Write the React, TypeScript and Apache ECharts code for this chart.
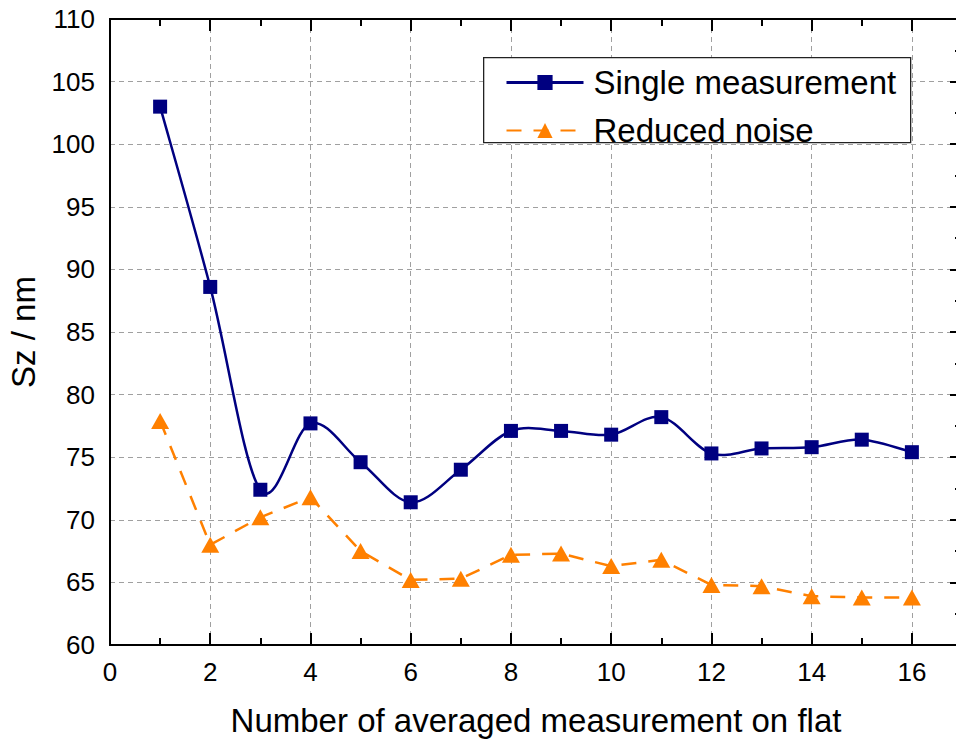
import React, { useEffect, useRef } from "react";
import * as echarts from "echarts";

// Number of averaged measurements on the flat
const averagedCounts = [1, 2, 3, 4, 5, 6, 7, 8, 9, 10, 11, 12, 13, 14, 15, 16];
// Sz in nm, single measurement
const singleMeasurement = [103.0, 88.6, 72.4, 77.7, 74.6, 71.4, 74.0, 77.1, 77.1, 76.8, 78.2, 75.3, 75.7, 75.8, 76.4, 75.4];
// Sz in nm, after noise reduction
const reducedNoise = [77.9, 68.0, 70.2, 71.8, 67.5, 65.2, 65.3, 67.2, 67.3, 66.3, 66.8, 64.8, 64.7, 63.9, 63.8, 63.8];

const seriesNames = ["Single measurement", "Reduced noise"];
const xAxisTitle = "Number of averaged measurement on flat";
const yAxisTitle = "Sz / nm";

const X_MIN = 0;
const X_MAX = 17;
const Y_MIN = 60;
const Y_MAX = 110;

const FONT = 'Arial, "Liberation Sans", Helvetica, sans-serif';
const NAVY = "#000080";
const ORANGE = "#FF8000";

const PLOT = { left: 110, top: 19, width: 852, height: 626 };

const pairs = (ys: number[]) => averagedCounts.map((x, i) => [x, ys[i]]);

// Spline segment (Catmull-Rom as cubic Bezier) from point i to point i+1
function splineSegment(params: any, api: any) {
  const i = params.dataIndex;
  const n = averagedCounts.length;
  if (i >= n - 1) return null;
  const at = (k: number) => {
    const j = Math.max(0, Math.min(n - 1, k));
    return api.coord([averagedCounts[j], singleMeasurement[j]]);
  };
  const p0 = at(i - 1);
  const p1 = at(i);
  const p2 = at(i + 1);
  const p3 = at(i + 2);
  return {
    type: "bezierCurve",
    shape: {
      x1: p1[0],
      y1: p1[1],
      cpx1: p1[0] + (p2[0] - p0[0]) / 6,
      cpy1: p1[1] + (p2[1] - p0[1]) / 6,
      cpx2: p2[0] - (p3[0] - p1[0]) / 6,
      cpy2: p2[1] - (p3[1] - p1[1]) / 6,
      x2: p2[0],
      y2: p2[1],
    },
    style: { stroke: NAVY, lineWidth: 2.5, fill: "none" },
  };
}

// Tick-only axes: each one sits on the opposite edge of the frame so that
// its (outward) ticks point into the plot area.
function tickAxes(gridIndex: number, xStep: number, yStep: number, len: number) {
  const common = {
    type: "value",
    gridIndex,
    axisLine: { show: false },
    axisTick: { show: true, inside: false, length: len, lineStyle: { color: "#000", width: 2 } },
    axisLabel: { show: false },
    splitLine: { show: false },
  };
  const xs = [
    { ...common, min: X_MIN, max: X_MAX, interval: xStep, position: "top", offset: -PLOT.height },
    { ...common, min: X_MIN, max: X_MAX, interval: xStep, position: "bottom", offset: -PLOT.height },
  ];
  const ys = [
    { ...common, min: Y_MIN, max: Y_MAX, interval: yStep, position: "right", offset: -PLOT.width },
    { ...common, min: Y_MIN, max: Y_MAX, interval: yStep, position: "left", offset: -PLOT.width },
  ];
  return { xs, ys };
}

export default function App() {
  const ref = useRef<HTMLDivElement>(null);

  useEffect(() => {
    if (!ref.current) return;
    const chart = echarts.init(ref.current, undefined, { renderer: "svg" });

    const plotBox = { ...PLOT, containLabel: false, outerBoundsMode: "none" };
    const axisLine = { show: true, lineStyle: { color: "#000", width: 2 } };
    const gridLine = { show: true, lineStyle: { color: "#a0a0a0", width: 1, type: [5, 4] } };
    const major = tickAxes(1, 2, 5, 12);
    const minor = tickAxes(2, 1, 2.5, 7);

    chart.setOption({
      animation: false,
      backgroundColor: "#fff",
      textStyle: { fontFamily: FONT },
      // grid 0: data, labels, frame; grids 1 and 2: major and minor ticks
      grid: [plotBox, plotBox, plotBox],
      xAxis: [
        {
          type: "value",
          gridIndex: 0,
          min: X_MIN,
          max: X_MAX,
          interval: 2,
          position: "bottom",
          name: xAxisTitle,
          nameLocation: "middle",
          nameGap: 59,
          nameTextStyle: { fontSize: 33, color: "#000", fontFamily: FONT },
          axisLine,
          axisTick: { show: false },
          axisLabel: {
            fontSize: 26,
            color: "#000",
            margin: 14,
            fontFamily: FONT,
            formatter: (v: number) => (v <= 16 ? String(v) : ""),
          },
          splitLine: gridLine,
        },
        {
          type: "value",
          gridIndex: 0,
          min: X_MIN,
          max: X_MAX,
          interval: 2,
          position: "top",
          axisLine,
          axisTick: { show: false },
          axisLabel: { show: false },
          splitLine: { show: false },
        },
        ...major.xs,
        ...minor.xs,
      ],
      yAxis: [
        {
          type: "value",
          gridIndex: 0,
          min: Y_MIN,
          max: Y_MAX,
          interval: 5,
          position: "left",
          name: yAxisTitle,
          nameLocation: "middle",
          nameGap: 70,
          nameRotate: 90,
          nameTextStyle: { fontSize: 33, color: "#000", fontFamily: FONT },
          axisLine,
          axisTick: { show: false },
          axisLabel: { fontSize: 26, color: "#000", margin: 15, fontFamily: FONT },
          splitLine: gridLine,
        },
        {
          type: "value",
          gridIndex: 0,
          min: Y_MIN,
          max: Y_MAX,
          interval: 5,
          position: "right",
          axisLine,
          axisTick: { show: false },
          axisLabel: { show: false },
          splitLine: { show: false },
        },
        ...major.ys,
        ...minor.ys,
      ],
      // framed legend panel
      graphic: [
        {
          type: "rect",
          left: 483,
          top: 57,
          z: 3,
          shape: { width: 427, height: 85 },
          style: { fill: "#fff", stroke: "#222", lineWidth: 1.3 },
        },
      ],
      legend: {
        orient: "vertical",
        left: 505,
        top: 66,
        z: 5,
        data: [
          { name: seriesNames[0], lineStyle: { color: NAVY, width: 3, opacity: 1 } },
          { name: seriesNames[1] },
        ],
        itemWidth: 77,
        itemHeight: 19,
        itemGap: 15,
        padding: 0,
        borderWidth: 0,
        textStyle: { fontSize: 33, color: "#000", fontFamily: FONT, padding: [0, 0, 0, 5] },
      },
      series: [
        {
          name: seriesNames[1],
          type: "line",
          xAxisIndex: 0,
          yAxisIndex: 0,
          data: pairs(reducedNoise),
          symbol: "triangle",
          symbolSize: [18, 16],
          smooth: false,
          itemStyle: { color: ORANGE },
          lineStyle: { color: ORANGE, width: 2.5, type: [15, 12] },
          z: 2,
        },
        {
          // spline through the single-measurement points
          type: "custom",
          xAxisIndex: 0,
          yAxisIndex: 0,
          data: pairs(singleMeasurement),
          encode: { x: 0, y: 1 },
          renderItem: splineSegment,
          silent: true,
          z: 3,
        },
        {
          name: seriesNames[0],
          type: "line",
          xAxisIndex: 0,
          yAxisIndex: 0,
          data: pairs(singleMeasurement),
          symbol: "rect",
          symbolSize: 14,
          itemStyle: { color: NAVY },
          lineStyle: { color: NAVY, width: 2.5, opacity: 0 },
          z: 4,
        },
      ],
    });

    return () => chart.dispose();
  }, []);

  return (
    <div
      ref={ref}
      style={{ position: "fixed", left: 0, top: 0, width: 956, height: 741, background: "#fff" }}
    />
  );
}
